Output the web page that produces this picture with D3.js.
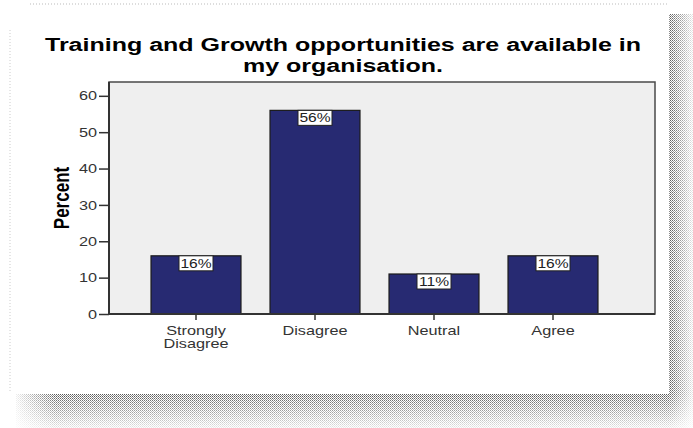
<!DOCTYPE html>
<html>
<head>
<meta charset="utf-8">
<script src="https://cdn.jsdelivr.net/npm/d3@7/dist/d3.min.js"></script>
<style>
  html, body { margin: 0; padding: 0; background: #ffffff; }
  svg { display: block; }
  text { font-family: "Liberation Sans", Arial, sans-serif; }
</style>
</head>
<body>
<svg id="chart" width="693" height="428"></svg>
<script>
// Survey responses (percent of respondents)
const categories = ["Strongly Disagree", "Disagree", "Neutral", "Agree"];
const categoryLines = [["Strongly", "Disagree"], ["Disagree"], ["Neutral"], ["Agree"]];
const percents = [16, 56, 11, 16];
const yTicks = [0, 10, 20, 30, 40, 50, 60];
const titleLines = ["Training and Growth opportunities are available in", "my organisation."];
const yLabel = "Percent";

// glyphs in this export are drawn horizontally widened
const SX = 1.25;

const svg = d3.select("#chart");
const defs = svg.append("defs");

// Halftone-style drop shadow behind the card
const pat = defs.append("pattern")
  .attr("id", "dots").attr("width", 2).attr("height", 2)
  .attr("patternUnits", "userSpaceOnUse");
pat.append("rect").attr("width", 1).attr("height", 1).attr("fill", "#555");
pat.append("rect").attr("x", 1).attr("y", 1).attr("width", 1).attr("height", 1).attr("fill", "#8a8a8a");

// white veils that fade the shadow outward
const gR = defs.append("linearGradient").attr("id", "veilR");
gR.append("stop").attr("offset", "0").attr("stop-color", "#fff").attr("stop-opacity", 0);
gR.append("stop").attr("offset", "1").attr("stop-color", "#fff").attr("stop-opacity", 0.85);
const gB = defs.append("linearGradient").attr("id", "veilB").attr("x1", 0).attr("y1", 0).attr("x2", 0).attr("y2", 1);
gB.append("stop").attr("offset", "0").attr("stop-color", "#fff").attr("stop-opacity", 0);
gB.append("stop").attr("offset", "1").attr("stop-color", "#fff").attr("stop-opacity", 0.85);
const gL = defs.append("linearGradient").attr("id", "veilL");
gL.append("stop").attr("offset", "0").attr("stop-color", "#fff").attr("stop-opacity", 0.9);
gL.append("stop").attr("offset", "1").attr("stop-color", "#fff").attr("stop-opacity", 0);

svg.append("rect").attr("x", 669).attr("y", 14).attr("width", 24).attr("height", 414).attr("fill", "url(#dots)");
svg.append("rect").attr("x", 16).attr("y", 394).attr("width", 653).attr("height", 34).attr("fill", "url(#dots)");
svg.append("rect").attr("x", 669).attr("y", 14).attr("width", 24).attr("height", 414).attr("fill", "url(#veilR)");
svg.append("rect").attr("x", 16).attr("y", 394).attr("width", 677).attr("height", 34).attr("fill", "url(#veilB)");
svg.append("rect").attr("x", 16).attr("y", 394).attr("width", 40).attr("height", 34).attr("fill", "url(#veilL)");

// faint dotted frame on the top and left
svg.append("line").attr("x1", 30).attr("x2", 668).attr("y1", 4).attr("y2", 4)
  .attr("stroke", "#bbb").attr("stroke-dasharray", "1,2");
svg.append("line").attr("x1", 10).attr("x2", 10).attr("y1", 30).attr("y2", 392)
  .attr("stroke", "#ccc").attr("stroke-dasharray", "1,2");

// the white card
svg.append("rect").attr("x", 13).attr("y", 9).attr("width", 656).attr("height", 385).attr("fill", "#fff");

// Title
svg.append("text")
  .attr("transform", `translate(343,51) scale(1.39,1)`)
  .attr("text-anchor", "middle")
  .attr("font-size", 18).attr("font-weight", "bold").attr("fill", "#000")
  .selectAll("tspan").data(titleLines).join("tspan")
  .attr("x", 0).attr("dy", (d, i) => i === 0 ? 0 : 21)
  .text(d => d);

// Plot area
const plot = { left: 109, right: 655, top: 82, bottom: 314 };

const y = d3.scaleLinear().domain([0, 63.8]).range([plot.bottom, plot.top]);
const x = d3.scaleBand().domain(categories).range([136.5, 612.5]).paddingInner(0.244).paddingOuter(0.122);

svg.append("rect")
  .attr("x", plot.left).attr("y", plot.top)
  .attr("width", plot.right - plot.left).attr("height", plot.bottom - plot.top)
  .attr("fill", "#efefef").attr("stroke", "#4a4a4a").attr("stroke-width", 1.5);

// Bars
svg.append("g").selectAll("rect").data(percents).join("rect")
  .attr("x", (d, i) => x(categories[i]))
  .attr("y", d => y(d))
  .attr("width", x.bandwidth())
  .attr("height", d => y(0) - y(d))
  .attr("fill", "#272a72")
  .attr("stroke", "#1a1a1a").attr("stroke-width", 1.2);

// Value labels
const lab = svg.append("g").selectAll("g").data(percents).join("g")
  .attr("transform", (d, i) => `translate(${x(categories[i]) + x.bandwidth() / 2},${y(d)})`);
lab.append("rect")
  .attr("x", -17).attr("y", 0).attr("width", 34).attr("height", 15)
  .attr("fill", "#fff").attr("stroke", "#222").attr("stroke-width", 1);
lab.append("text")
  .attr("transform", `translate(0,12) scale(${SX * 0.96},1)`)
  .attr("text-anchor", "middle")
  .attr("font-size", 13).attr("fill", "#222")
  .text(d => d + "%");

// Y axis
const yAxis = d3.axisLeft(y).tickValues(yTicks).tickSize(10).tickPadding(2).tickFormat(d3.format("d"));
const ya = svg.append("g").attr("transform", `translate(${plot.left},0)`).call(yAxis);
ya.select(".domain").attr("stroke", "#333").attr("stroke-width", 2)
  .attr("d", `M0,${plot.bottom}V${plot.top}`);
ya.selectAll(".tick line").attr("stroke", "#333").attr("stroke-width", 1.5);
ya.selectAll(".tick text")
  .attr("x", null)
  .attr("transform", `translate(-12,0) scale(${SX},1)`)
  .attr("font-size", 13).attr("fill", "#333")
  .attr("font-family", "'Liberation Sans', Arial, sans-serif");

// X axis
const xa = svg.append("g").attr("transform", `translate(0,${plot.bottom})`)
  .call(d3.axisBottom(x).tickSize(6).tickFormat(""));
xa.select(".domain").attr("stroke", "#333").attr("stroke-width", 2)
  .attr("d", `M${plot.left},0H${plot.right}`);
xa.selectAll(".tick line").attr("stroke", "#333").attr("stroke-width", 1.5);
xa.selectAll(".tick").append("text")
  .attr("transform", `scale(${SX},1)`)
  .attr("text-anchor", "middle").attr("font-size", 13).attr("fill", "#333")
  .selectAll("tspan").data((d, i) => categoryLines[i]).join("tspan")
  .attr("x", 0).attr("y", (d, i) => 21 + i * 13)
  .text(d => d);

// Y axis title (widened across its stroke direction on screen)
svg.append("text")
  .attr("transform", `translate(69,198) scale(${SX},1) rotate(-90)`)
  .attr("text-anchor", "middle")
  .attr("font-size", 17).attr("font-weight", "bold").attr("fill", "#000")
  .text(yLabel);
</script>
</body>
</html>
